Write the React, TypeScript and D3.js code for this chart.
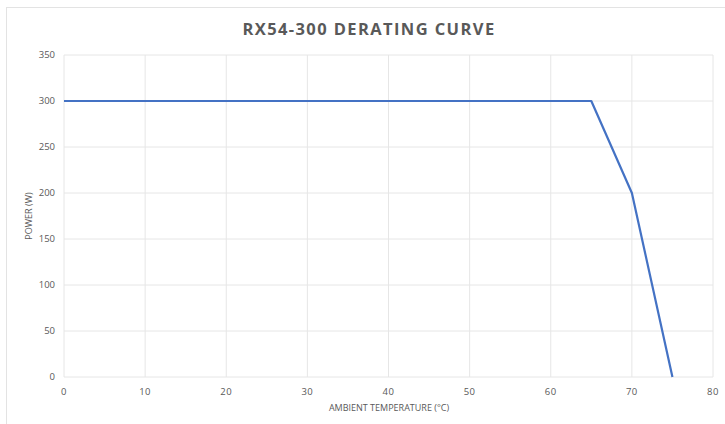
import React from 'react';
import * as d3 from 'd3';

const temps = [0, 65, 70, 75];
const power = [300, 300, 200, 0];
const xTicks = [0, 10, 20, 30, 40, 50, 60, 70, 80];
const yTicks = [0, 50, 100, 150, 200, 250, 300, 350];

const W = 725;
const H = 424;
const margin = { left: 64, right: 12, top: 55, bottom: 47 };
const textColor = '#595959';
const font = "Open Sans, 'Liberation Sans', sans-serif";

const App: React.FC = () => {
    const x = d3.scaleLinear().domain([0, 80]).range([margin.left, W - margin.right]);
    const y = d3.scaleLinear().domain([0, 350]).range([H - margin.bottom, margin.top]);

    const line = d3.line<number>()
        .x((_, i) => x(temps[i]))
        .y(d => y(d));

    return (
        <div style={{ position: 'fixed', left: 0, top: 0 }}>
            <svg width={W} height={H} style={{ display: 'block', background: '#fff' }}>
                {/* outer frame of the chart area */}
                <rect x={6.5} y={7.5} width={W} height={H} fill="none" stroke="#e3e3e3" strokeWidth={1} />

                <text x={369} y={35} textAnchor="middle" fontFamily={font} fontWeight={700}
                    fontSize={16.5} letterSpacing={1.4} fill={textColor}>
                    RX54-300 DERATING CURVE
                </text>

                {/* gridlines */}
                <g>
                    {yTicks.map(t => (
                        <line key={`gy-${t}`} x1={x(0)} x2={x(80)} y1={y(t)} y2={y(t)}
                            stroke="#e6e6e6" strokeWidth={1} />
                    ))}
                    {xTicks.map(t => (
                        <line key={`gx-${t}`} x1={x(t)} x2={x(t)} y1={y(0)} y2={y(350)}
                            stroke="#e6e6e6" strokeWidth={1} />
                    ))}
                </g>

                {/* tick labels */}
                <g fontFamily={font} fontSize={9.5} fill={textColor}>
                    {yTicks.map(t => (
                        <text key={`ty-${t}`} x={x(0) - 9} y={y(t)} dy="0.35em" textAnchor="end">{t}</text>
                    ))}
                    {xTicks.map(t => (
                        <text key={`tx-${t}`} x={x(t)} y={y(0) + 18} textAnchor="middle" letterSpacing={0.5}>{t}</text>
                    ))}
                </g>

                <text x={389} y={411} textAnchor="middle" fontFamily={font} fontSize={9} fill={textColor}>
                    AMBIENT TEMPERATURE (°C)
                </text>
                <text transform={`translate(32, ${y(175)}) rotate(-90)`} textAnchor="middle"
                    fontFamily={font} fontSize={9} fill={textColor}>
                    POWER (W)
                </text>

                <path d={line(power) || ''} fill="none" stroke="#4472C4" strokeWidth={2.2}
                    strokeLinejoin="round" />
            </svg>
        </div>
    );
};

export default App;
